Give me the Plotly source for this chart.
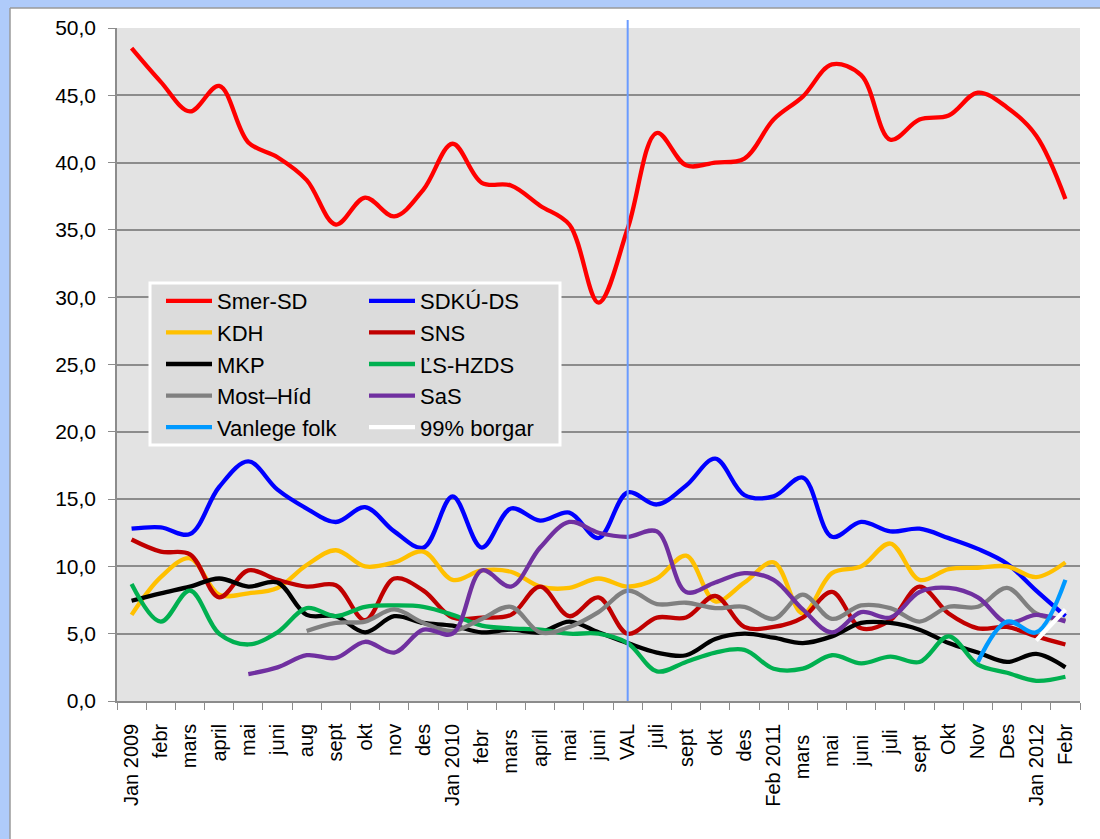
import plotly.graph_objects as go

# x categories (survey months), VAL = election
months = ["Jan 2009", "febr", "mars", "april", "mai", "juni", "aug", "sept", "okt",
          "nov", "des", "Jan 2010", "febr ", "mars ", "april ", "mai ", "juni ", "VAL",
          "juli", "sept ", "okt ", "des ", "Feb 2011", "mars  ", "mai  ", "juni  ",
          "juli ", "sept  ", "Okt", "Nov", "Des", "Jan 2012", "Febr"]

smer = [48.5, 46.0, 43.8, 45.7, 41.5, 40.4, 38.7, 35.4, 37.4, 36.0, 38.0, 41.4, 38.5,
        38.3, 36.8, 35.4, 29.6, 35.1, 42.2, 39.8, 40.0, 40.3, 43.2, 44.9, 47.3, 46.5,
        41.7, 43.2, 43.5, 45.2, 44.1, 42.0, 37.3]
sdku = [12.8, 12.9, 12.4, 15.9, 17.8, 15.7, 14.3, 13.3, 14.4, 12.6, 11.4, 15.2, 11.4,
        14.3, 13.4, 14.0, 12.1, 15.5, 14.6, 16.0, 18.0, 15.3, 15.2, 16.6, 12.2, 13.3,
        12.6, 12.8, 12.1, 11.3, 10.2, 8.2, 6.3]
kdh = [6.4, 9.2, 10.6, 7.9, 8.0, 8.4, 10.1, 11.2, 10.0, 10.3, 11.1, 9.0, 9.7, 9.6,
       8.5, 8.4, 9.1, 8.5, 9.1, 10.8, 7.4, 8.8, 10.3, 6.5, 9.5, 10.0, 11.7, 9.0, 9.8,
       9.9, 10.0, 9.2, 10.3]
sns = [12.0, 11.1, 10.9, 7.7, 9.7, 9.0, 8.5, 8.6, 6.0, 9.1, 8.2, 6.2, 6.2, 6.4, 8.5,
       6.3, 7.7, 5.0, 6.2, 6.2, 7.8, 5.5, 5.5, 6.2, 8.1, 5.4, 6.0, 8.5, 6.5, 5.4, 5.5,
       4.8, 4.2]
mkp = [7.45, 8.0, 8.5, 9.1, 8.5, 8.8, 6.4, 6.3, 5.1, 6.3, 5.8, 5.6, 5.1, 5.3, 5.1,
       5.9, 5.1, 4.3, 3.6, 3.4, 4.6, 5.0, 4.7, 4.3, 4.8, 5.8, 5.8, 5.3, 4.3, 3.6, 2.9,
       3.5, 2.5]
lshzds = [8.7, 5.9, 8.2, 5.0, 4.2, 5.1, 6.9, 6.3, 7.0, 7.1, 7.0, 6.4, 5.6, 5.4, 5.3,
          5.0, 5.0, 4.3, 2.2, 2.9, 3.6, 3.8, 2.4, 2.4, 3.4, 2.8, 3.3, 2.9, 4.8, 2.7,
          2.1, 1.5, 1.8]
most_hid = [None] * 6 + [5.2, 5.8, 5.9, 6.8, 5.8, 5.2, 6.1, 7.0, 5.1, 5.5, 6.6, 8.2,
                         7.2, 7.3, 6.9, 7.0, 6.1, 7.9, 6.1, 7.1, 6.9, 5.9, 7.0, 7.0,
                         8.4, 6.5, 6.0]
sas = [None] * 4 + [2.0, 2.5, 3.4, 3.2, 4.4, 3.6, 5.3, 5.0, 9.7, 8.5, 11.4, 13.3, 12.5,
                    12.2, 12.6, 8.1, 8.8, 9.5, 9.0, 6.8, 5.1, 6.6, 6.2, 8.1, 8.4, 7.7,
                    5.8, 6.4, 5.9]
vanlege = [None] * 29 + [2.9, 5.9, 5.1, 9.0]
borgar = [None] * 31 + [4.5, 6.8]

series = [
    ("Smer-SD", smer, "#FF0000", "legend"),
    ("SDKÚ-DS", sdku, "#0000FF", "legend2"),
    ("KDH", kdh, "#FFC000", "legend"),
    ("SNS", sns, "#C00000", "legend2"),
    ("MKP", mkp, "#000000", "legend"),
    ("ĽS-HZDS", lshzds, "#00B050", "legend2"),
    ("Most–Híd", most_hid, "#808080", "legend"),
    ("SaS", sas, "#7030A0", "legend2"),
    ("Vanlege folk", vanlege, "#0099FF", "legend"),
    ("99% borgar", borgar, "#FFFFFF", "legend2"),
]

FONT = "Liberation Sans, Arial, sans-serif"
GRID = "#8C8C8C"
L, T, PW, PH = 117, 28, 963, 673   # plot area in px


def px_x(p):
    return (p - L) / PW


def px_y(p):
    return (T + PH - p) / PH


fig = go.Figure()
for name, values, color, leg in series:
    fig.add_trace(go.Scatter(
        x=months, y=values, name=name, mode="lines", legend=leg,
        line=dict(color=color, width=4.3, shape="spline", smoothing=1),
        connectgaps=False,
    ))

# outer frame: light blue strips with grey edge
shapes = [
    dict(type="rect", xref="paper", yref="paper", x0=-0.2, x1=px_x(10),
         y0=-0.3, y1=1.1, fillcolor="#AFCBFA", line_width=0, layer="below"),
    dict(type="rect", xref="paper", yref="paper", x0=-0.2, x1=1.1,
         y0=px_y(8), y1=1.1, fillcolor="#AFCBFA", line_width=0, layer="below"),
    dict(type="line", xref="paper", yref="paper", x0=px_x(10), x1=px_x(10),
         y0=-0.3, y1=px_y(8), line=dict(color="#9A9A9A", width=1.5)),
    dict(type="line", xref="paper", yref="paper", x0=px_x(10), x1=1.1,
         y0=px_y(8), y1=px_y(8), line=dict(color="#9A9A9A", width=1.5)),
    # election marker
    dict(type="line", xref="x", yref="paper", x0="VAL", x1="VAL", y0=0, y1=px_y(20),
         line=dict(color="#6A9BFF", width=2), layer="above"),
    # legend box
    dict(type="rect", xref="paper", yref="paper", x0=px_x(150), x1=px_x(560),
         y0=px_y(445), y1=px_y(283), fillcolor="#DCDCDC",
         line=dict(color="#FFFFFF", width=3), layer="above"),
]

leg_common = dict(xanchor="left", yanchor="top", bgcolor="rgba(0,0,0,0)",
                  font=dict(family=FONT, size=22, color="#000000"),
                  itemwidth=46, tracegroupgap=0, orientation="v")

fig.update_layout(
    width=1100, height=839,
    margin=dict(l=L, r=1100 - L - PW, t=T, b=839 - T - PH),
    paper_bgcolor="#FFFFFF", plot_bgcolor="#E3E3E3",
    separators=", ",
    font=dict(family=FONT, size=20, color="#000000"),
    shapes=shapes,
    legend=dict(x=px_x(161), y=px_y(280), **leg_common),
    legend2=dict(x=px_x(364), y=px_y(280), **leg_common),
    xaxis=dict(
        type="category", range=[-0.5, len(months) - 0.5], tickangle=-90,
        tickson="boundaries", ticks="outside", ticklen=7, tickcolor=GRID,
        showline=True, linecolor=GRID, linewidth=1.5, showgrid=False,
        tickfont=dict(size=20), ticklabelstandoff=13, automargin=False,
    ),
    yaxis=dict(
        range=[0, 50], dtick=5, tickformat=".1f", ticks="outside", ticklen=7,
        tickcolor=GRID, showline=True, linecolor=GRID, linewidth=1.5,
        gridcolor=GRID, gridwidth=1.8, zeroline=False, tickfont=dict(size=21),
        ticklabelstandoff=8, automargin=False,
    ),
)

fig.write_html("out.html", config={"displayModeBar": False},
               post_script="document.body.style.margin='0';")
